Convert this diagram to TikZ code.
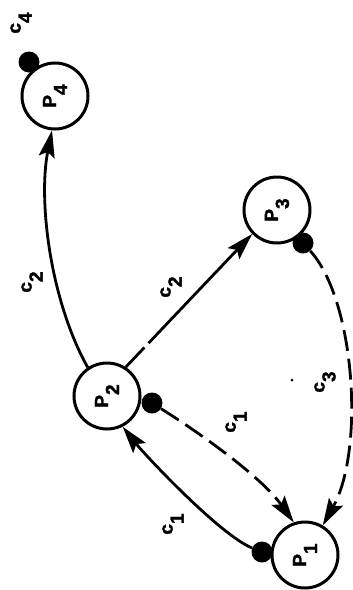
\documentclass[tikz,border=0pt]{standalone}
\usepackage{fontspec}
\setmainfont{Liberation Sans}
\newfontfamily\markfont{Liberation Sans Bold}[FakeBold=1.6]
\usetikzlibrary{arrows.meta}
% symbol with a dropped index, e.g. P_4, c_1
\newcommand\idx[2]{#1\raisebox{-11pt}{#2}}

\begin{document}
\begin{tikzpicture}[x=1pt,y=-1pt,
  proc/.style={circle, draw, line width=3pt, minimum size=66pt, inner sep=0pt,
               font=\fontsize{19}{19}\markfont},
  tag/.style={circle, fill, minimum size=21pt, inner sep=0pt},
  lbl/.style={rotate=90, inner sep=0pt, font=\fontsize{19}{19}\markfont},
  link/.style={line width=2.8pt, -{Stealth[length=27pt,width=16pt,inset=5pt]}},
  dashedlink/.style={link, dash pattern=on 21pt off 8pt}]
\useasboundingbox (0,0) rectangle (353,590);

% processes
\node[proc] (P4) at (55,96)  {\rotatebox{90}{\idx{P}{4}}};
\node[proc] (P3) at (277,210) {\rotatebox{90}{\idx{P}{3}}};
\node[proc] (P2) at (107,396) {\rotatebox{90}{\idx{P}{2}}};
\node[proc] (P1) at (305,555) {\rotatebox{90}{\idx{P}{1}}};

% source dots
\node[tag] (d4) at (29,62) {};
\node[tag] (d3) at (303,243) {};
\node[tag] (d2) at (152,403) {};
\node[tag] (d1) at (262,552) {};

% channels
\draw[link] (P2.124) .. controls (50,300) and (38,200) .. (P4.265);
\draw[link, dash pattern=on 27pt off 6pt on 400pt] (P2.57) -- (P3.224);
\draw[dashedlink] (d3) .. controls (355,300) and (365,450) .. (P1.59);
\draw[dashedlink] (d2) .. controls (195,430) and (260,475) .. (P1.109);
\draw[link] (d1) .. controls (220,535) and (145,455) .. (P2.297);

% channel names
\node[lbl] (c4)  at (21,23)   {\idx{c}{4}};
\node[lbl] (c2a) at (32,282)  {\idx{c}{2}};
\node[lbl] (c2b) at (171,287) {\idx{c}{2}};
\node[lbl] (c3)  at (325,382) {\idx{c}{3}};
\node[lbl] (c1a) at (236,422) {\idx{c}{1}};
\node[lbl] (c1b) at (173,524) {\idx{c}{1}};

\fill (292,380) circle (1.5pt);
\end{tikzpicture}
\end{document}
